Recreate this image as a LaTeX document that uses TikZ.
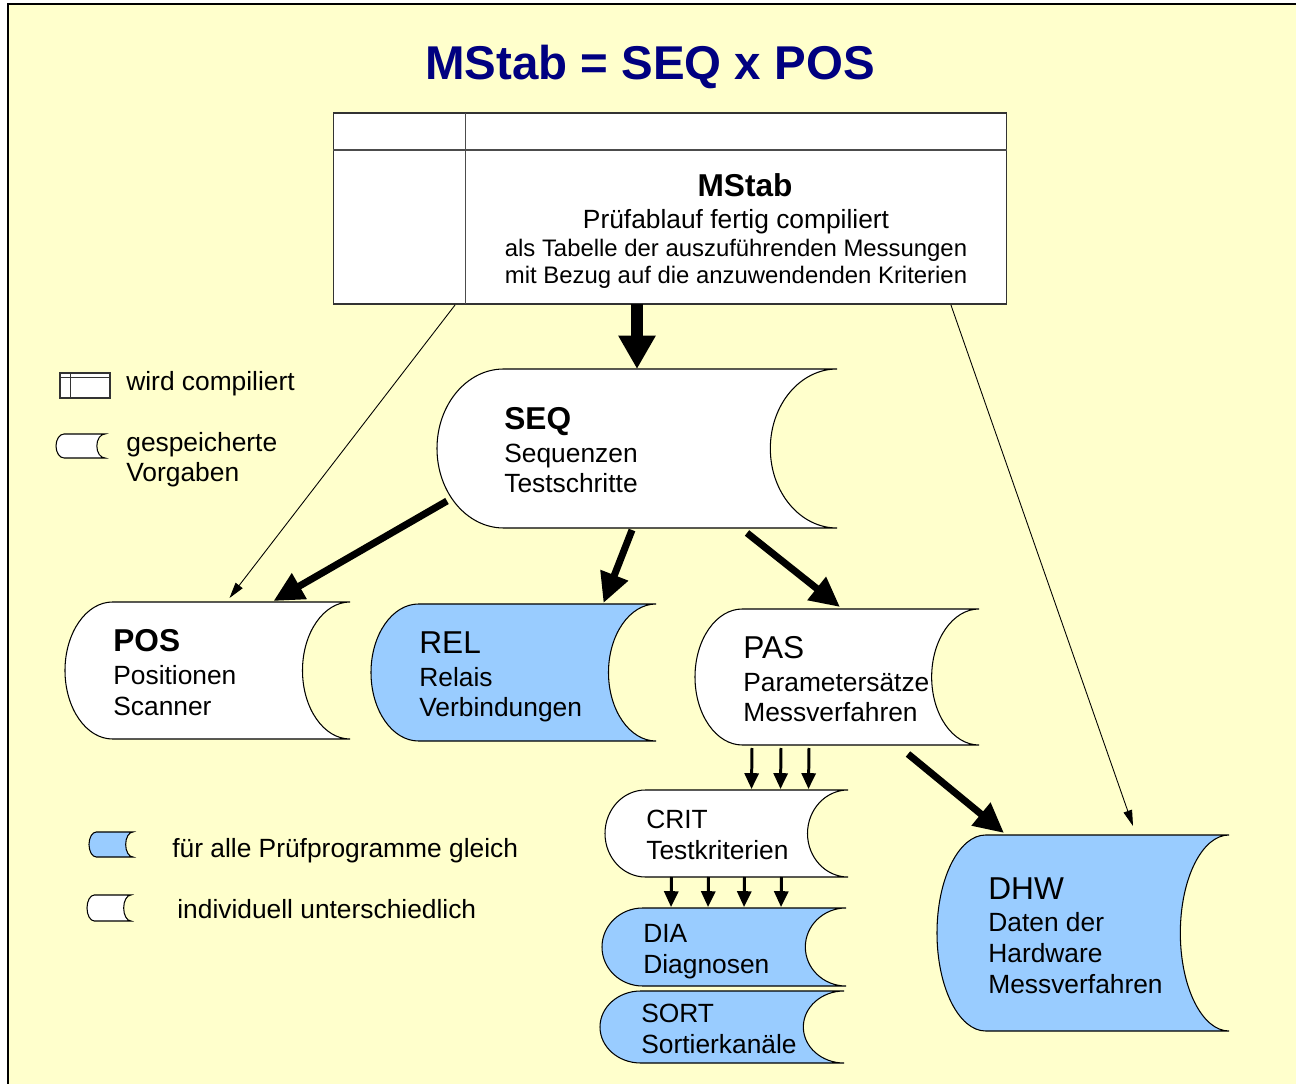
\documentclass[tikz,border=0pt]{standalone}
\usepackage{fontspec}
\setmainfont{Liberation Sans}
\usetikzlibrary{arrows.meta,calc}

\definecolor{bgyellow}{HTML}{FFFFCC}
\definecolor{fixblue}{HTML}{99CCFF}
\definecolor{titleblue}{HTML}{000080}

\newcommand{\headfont}{\fontsize{18}{20}\selectfont}
\newcommand{\smallfont}{\fontsize{13.6}{15}\selectfont}
% stored-data shape: name, left, top, right, bottom, fill
\newcommand{\storage}[6]{%
  \node[inner sep=0pt, outer sep=0pt, minimum width={(#4-#2)*0.02cm}, minimum height={(#5-#3)*0.02cm}] (#1) at ({(#2+#4)/2},{-(#3+#5)/2}) {};
  \draw[shapeline, fill=#6] ([xshift={(#4-#2)*0.02cm/6}]#1.north west) -- (#1.north east)
    arc[start angle=90, end angle=270, x radius={(#4-#2)/6}, y radius={(#5-#3)/2}]
    -- ([xshift={(#4-#2)*0.02cm/6}]#1.south west)
    arc[start angle=270, end angle=90, x radius={(#4-#2)/6}, y radius={(#5-#3)/2}]
    -- cycle;
}

\tikzset{
  shapeline/.style={draw=black, line width=0.6pt},
  txt/.style={font=\fontsize{15}{17.4}\selectfont, align=left, inner sep=0pt, anchor=base west},
  bigarrow/.style={line width=6.5pt, -{Triangle[width=20pt,length=19pt]}},
  midarrow/.style={line width=4pt, -{Triangle[width=16pt,length=17pt]}},
  smallarrow/.style={line width=1.7pt, -{Triangle[width=8pt,length=9pt]}},
  thinarrow/.style={line width=0.5pt, -{Triangle[width=5pt,length=9pt]}},
}

\begin{document}
\begin{tikzpicture}[x=0.02cm,y=0.02cm]
\useasboundingbox (0,0) rectangle (1296,-1084);
\fill[white] (0,0) rectangle (1296,-1084);
\fill[bgyellow] (8,-4) rectangle (1296,-1084);
\draw[line width=1.2pt] (8,-1084) -- (8,-4) -- (1296,-4);

% title
\node[font=\fontsize{27}{30}\selectfont\bfseries, text=titleblue, anchor=base, inner sep=0pt] (title) at (650,-80) {MStab = SEQ x POS};

% compiled table
\node[draw=black!80, fill=white, line width=0.6pt, inner sep=0pt, outer sep=0pt, minimum width=13.48cm, minimum height=3.82cm] (mstab) at (670,-208.5) {};
\draw[black!70, line width=0.6pt] ($(mstab.north west)+(132,0)$) -- ($(mstab.south west)+(132,0)$);
\draw[black!70, line width=0.6pt] ($(mstab.north west)+(0,-37)$) -- ($(mstab.north east)+(0,-37)$);
\node[font=\fontsize{15}{15.9}\selectfont, align=center, inner sep=0pt, anchor=base] (mstabtxt) at (736,-284)
  {\hspace*{0.36cm}{\headfont\bfseries MStab}\\[2pt] Prüfablauf fertig compiliert\\ {\smallfont als Tabelle der auszuführenden Messungen}\\ {\smallfont mit Bezug auf die anzuwendenden Kriterien}};

% stored data
\storage{seq}{437}{369}{837}{528}{white}
\storage{pos}{65}{602}{350}{739}{white}
\storage{rel}{371}{604}{656}{741}{fixblue}
\storage{pas}{695}{609}{979}{745}{white}
\storage{crit}{605}{790}{848}{877}{white}
\storage{dia}{602}{908}{846}{986}{fixblue}
\storage{sort}{600}{991}{844}{1063}{fixblue}
\storage{dhw}{937}{835}{1229}{1031}{fixblue}

\node[txt] (seqtxt) at (504,-493) {{\headfont\bfseries SEQ}\\[1.5pt] Sequenzen\\ Testschritte};
\node[txt] (postxt) at (113,-715) {{\headfont\bfseries POS}\\[1.5pt] Positionen\\ Scanner};
\node[txt] (reltxt) at (419,-717) {{\headfont REL}\\[1.5pt] Relais\\ Verbindungen};
\node[txt] (pastxt) at (743,-722) {{\headfont PAS}\\[1.5pt] Parametersätze\\ Messverfahren};
\node[txt] (crittxt) at (646,-859) {CRIT\\ Testkriterien};
\node[txt] (diatxt) at (643,-973) {DIA\\ Diagnosen};
\node[txt] (sorttxt) at (641,-1053) {SORT\\ Sortierkanäle};
\node[txt] (dhwtxt) at (988,-993) {{\headfont DHW}\\[1pt] Daten der\\ Hardware\\ Messverfahren};

% connectors
\draw[bigarrow] (seq.north |- mstab.south) -- (seq.north);
\draw[midarrow] ([shift={(10,27)}]seq.south west) -- ([shift={(66,1)}]pos.north);
\draw[midarrow] ([shift={(-5,-2)}]seq.south) -- ([shift={(90,1)}]rel.north);
\draw[midarrow] ([shift={(110,-5)}]seq.south) -- ([shift={(3,2)}]pas.north);
\draw[midarrow] ([shift={(71,-9)}]pas.south) -- ([shift={(-79,2)}]dhw.north);
\foreach \dx in {-85,-56,-28}
  \draw[smallarrow] ([shift={(\dx,-3)}]pas.south) -- ([shift={(\dx+110,1)}]crit.north);
\foreach \dx in {-55,-18,18,55}
  \draw[smallarrow] ([xshift=\dx*0.02cm]crit.south) -- ([shift={(\dx+2,1)}]dia.north);
\draw[thinarrow] ([shift={(122,-1)}]mstab.south west) -- ([shift={(22,4)}]pos.north);
\draw[thinarrow] ([shift={(-56,-1)}]mstab.south east) -- ([shift={(50,9)}]dhw.north);

% legend
\node[draw=black!80, fill=white, line width=0.6pt, inner sep=0pt, outer sep=0pt, minimum width=1cm, minimum height=0.5cm] (legcomp) at (85,-385.5) {};
\draw[black!80, line width=0.5pt] ($(legcomp.north west)+(10,0)$) -- ($(legcomp.south west)+(10,0)$);
\draw[black!80, line width=0.5pt] ($(legcomp.north west)+(0,-4)$) -- ($(legcomp.north east)+(0,-4)$);
\storage{legstore}{56}{434}{105}{458}{white}
\storage{legblue}{89}{832}{133}{857}{fixblue}
\storage{legwhite}{87}{895}{131}{921}{white}

\node[txt] (legcomptxt) at (126,-391) {wird compiliert};
\node[txt] (legstoretxt) at (126,-482) {gespeicherte\\ Vorgaben};
\node[txt] (legbluetxt) at (172,-857) {für alle Prüfprogramme gleich};
\node[txt] (legwhitetxt) at (177,-918) {individuell unterschiedlich};
\end{tikzpicture}
\end{document}
